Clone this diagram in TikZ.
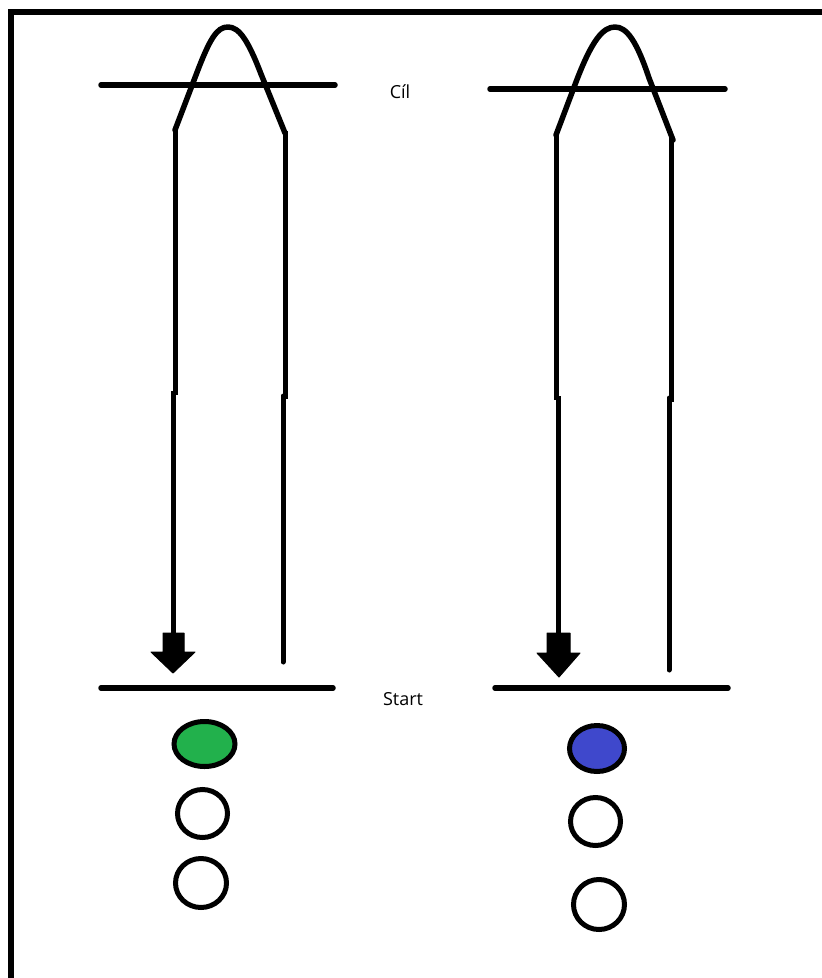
\documentclass[tikz,border=0pt]{standalone}
\usepackage{fontspec}
\setmainfont{Open Sans}
\definecolor{paintgreen}{HTML}{22B14C}
\definecolor{paintblue}{HTML}{3F48CC}
\tikzset{
  stroke/.style={line width=5.5pt, line cap=round, line join=round},
  lane/.style={line width=5pt},
  blockarrow/.style={fill=black, draw=black, line width=1pt, line join=round},
  marker/.style={line width=5pt, draw=black},
  label/.style={font=\fontsize{18}{20}\selectfont, inner sep=0pt}
}
\begin{document}
\begin{tikzpicture}[x=1pt,y=-1pt]
  \useasboundingbox (0,0) rectangle (822,978);
  \clip (0,0) rectangle (822,978);
  \fill[white] (0,0) rectangle (822,978);

  % outer frame (left and top edges)
  \draw[line width=6pt] (11,1000) -- (11,12) -- (840,12);

  % ---------- left lane ----------
  \draw[stroke] (101,85) -- (335,85);
  \draw[stroke] (175,130) -- (196,75) .. controls (210,38) and (217,27) .. (228,27)
        .. controls (239,27) and (248,40) .. (261,74) -- (285,133);
  \draw[lane] (175,129) -- (175,395);
  \draw[lane] (173,391) -- (173,636);
  \draw[lane] (285,131) -- (285,399);
  \draw[lane, line cap=round] (283,396) -- (283,662);
  \draw[blockarrow] (163,633) -- (184,633) -- (184,652) -- (195,652) -- (173,673)
        -- (151,652) -- (163,652) -- cycle;
  \draw[stroke] (101,688) -- (333,688);

  \draw[marker, fill=paintgreen] (204.5,744) ellipse [x radius=30.5, y radius=22.5];
  \draw[marker, fill=white] (202.5,813.5) ellipse [x radius=25, y radius=24];
  \draw[marker, fill=white] (201,883) ellipse [x radius=25.5, y radius=24.5];

  % ---------- right lane ----------
  \draw[stroke] (490,89) -- (725,89);
  \draw[stroke] (556,135) -- (576,82) .. controls (592,40) and (603,27) .. (615,27)
        .. controls (627,27) and (637,42) .. (649,78) -- (673,140);
  \draw[lane] (556,134) -- (556,400);
  \draw[lane] (558,396) -- (558,636);
  \draw[lane] (671,138) -- (671,402);
  \draw[lane, line cap=round] (669,398) -- (669,670);
  \draw[blockarrow] (547,633) -- (570,633) -- (570,653) -- (580,653) -- (559,677)
        -- (537,653) -- (547,653) -- cycle;
  \draw[stroke] (495,688) -- (728,688);

  \draw[marker, fill=paintblue] (597,748.5) ellipse [x radius=27.5, y radius=23];
  \draw[marker, fill=white] (595.5,821.5) ellipse [x radius=25, y radius=24];
  \draw[marker, fill=white] (599,904.5) ellipse [x radius=25.5, y radius=25];

  % ---------- labels ----------
  \node[label] (goal) at (400,92) {Cíl};
  \node[label] (start) at (403,699) {Start};
\end{tikzpicture}
\end{document}
